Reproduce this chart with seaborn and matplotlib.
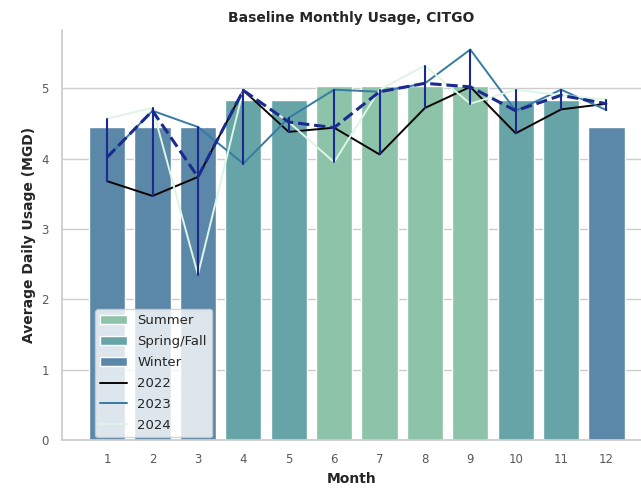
import numpy as np
import pandas as pd
import matplotlib.pyplot as plt
import seaborn as sns

# DATA
months = [1, 2, 3, 4, 5, 6, 7, 8, 9, 10, 11, 12]
seasons = ['Winter', 'Winter', 'Winter', 'Spring/Fall', 'Spring/Fall', 'Summer',
           'Summer', 'Summer', 'Summer', 'Spring/Fall', 'Spring/Fall', 'Winter']
baseline = [4.45, 4.45, 4.45, 4.83, 4.83, 5.03, 5.03, 5.03, 5.03, 4.83, 4.83, 4.45]
usage_2022 = [3.68, 3.47, 3.74, 4.97, 4.38, 4.44, 4.06, 4.72, 5.02, 4.36, 4.70, 4.78]
usage_2023 = [4.02, 4.68, 4.45, 3.93, 4.58, 4.98, 4.95, 5.07, 5.55, 4.68, 4.98, 4.69]
usage_2024 = [4.57, 4.72, 2.35, 4.98, 4.52, 3.95, 4.98, 5.32, 4.78, 4.98, 4.90, 4.84]
years = [2022, 2023, 2024]
season_order = ['Summer', 'Spring/Fall', 'Winter']
season_colors = {'Summer': '#8cc3a9', 'Spring/Fall': '#67a4a8', 'Winter': '#5b88a8'}

sns.set_theme(style='whitegrid')
plt.rcParams['font.family'] = ['DejaVu Sans']

base_df = pd.DataFrame({'Month': months, 'Baseline': baseline, 'Season': seasons})
yr_df = pd.DataFrame({'Month': months * len(years),
                      'Usage': usage_2022 + usage_2023 + usage_2024,
                      'Year': np.repeat(years, len(months))})

fig, ax = plt.subplots(figsize=(6.41, 4.88), dpi=100)
fig.subplots_adjust(left=0.097, right=1.0, bottom=0.098, top=0.9385)

# BARS = BASELINE BY SEASON
sns.barplot(data=base_df, x='Month', y='Baseline', hue='Season',
            hue_order=season_order, palette=season_colors, saturation=1,
            native_scale=True, dodge=False, ax=ax)
# LINES = EACH YEAR
sns.lineplot(data=yr_df, x='Month', y='Usage', hue='Year', palette='mako',
             linewidth=1.4, ax=ax)
# MEDIAN WITH MIN/MAX RANGE
sns.lineplot(data=yr_df, x='Month', y='Usage', estimator='median',
             errorbar=('pi', 100), err_style='bars', color='#1b2a8f',
             linestyle='--', linewidth=2.2, err_kws={'linewidth': 1.5},
             legend=False, ax=ax)

ax.set_xticks(months)
ax.set_xlim(0.01, 12.76)
ax.xaxis.grid(False)
ax.tick_params(axis='both', labelsize=8.5, colors='.35')
sns.despine(ax=ax)

ax.set_title('Baseline Monthly Usage, CITGO', fontweight='bold', fontsize=10)
ax.set_xlabel('Month', fontweight='bold', fontsize=10)
ax.set_ylabel('Average Daily Usage (MGD)', fontweight='bold', fontsize=10)

# LEGEND
want = season_order + [str(y) for y in years]
handles, labels = ax.get_legend_handles_labels()
hl = {}
for h, l in zip(handles, labels):
    if l in want and l not in hl:
        hl[l] = h
ax.legend([hl[l] for l in want if l in hl], [l for l in want if l in hl],
          loc='lower left', bbox_to_anchor=(0.057, 0.007), borderaxespad=0,
          fontsize=9.5, labelspacing=0.6, framealpha=0.8)

plt.savefig('out.png', dpi=100)
